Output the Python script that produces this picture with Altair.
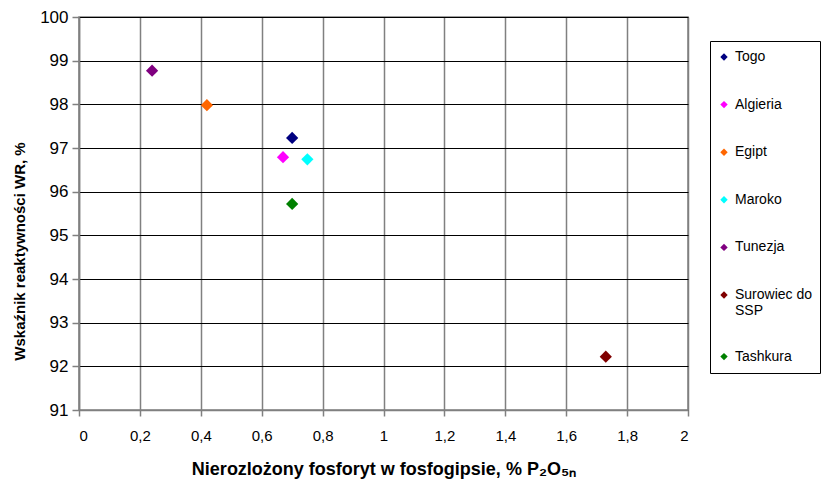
import altair as alt
import pandas as pd

names = ["Togo", "Algieria", "Egipt", "Maroko", "Tunezja", "Surowiec do SSP", "Tashkura"]
x_vals = [0.70, 0.67, 0.42, 0.75, 0.24, 1.73, 0.70]
y_vals = [97.23, 96.79, 97.98, 96.74, 98.77, 92.22, 95.72]
colors = ["#000080", "#FF00FF", "#FF6600", "#00FFFF", "#800080", "#800000", "#008000"]

df = pd.DataFrame({"name": names, "x": x_vals, "y": y_vals})

FONT = "Liberation Sans"

chart = alt.Chart(df).mark_point(shape="diamond", filled=True, size=150, opacity=1).encode(
    x=alt.X("x:Q", scale=alt.Scale(domain=[0, 2], nice=False, zero=False),
            axis=alt.Axis(values=[0, 0.2, 0.4, 0.6, 0.8, 1, 1.2, 1.4, 1.6, 1.8, 2],
                          labelExpr="replace(format(datum.value, '~g'), '.', ',')",
                          title="Nierozlożony fosforyt w fosfogipsie, % P₂O₅ₙ",
                          gridColor="#808080", gridWidth=1.5,
                          domainColor="#808080", domainWidth=1.5,
                          tickColor="#808080", tickSize=6, tickWidth=1.5,
                          labelFontSize=15, labelPadding=12, labelColor="#000000",
                          titleFontSize=18, titleFontWeight="bold", titlePadding=17,
                          titleColor="#000000")),
    y=alt.Y("y:Q", scale=alt.Scale(domain=[91, 100], nice=False, zero=False),
            axis=alt.Axis(values=list(range(91, 101)),
                          title="Wskaźnik reaktywności WR, %",
                          gridColor="#000000", gridWidth=1,
                          domainColor="#808080", domainWidth=1.5,
                          tickColor="#808080", tickSize=7, tickWidth=1.5,
                          labelFontSize=17, labelPadding=4, labelColor="#000000",
                          titleFontSize=15, titleFontWeight="bold", titlePadding=12,
                          titleY=234, titleAnchor="middle",
                          titleColor="#000000")),
    color=alt.Color("name:N", scale=alt.Scale(domain=names, range=colors),
                    legend=alt.Legend(title=None, orient="none", legendX=631, legendY=24,
                                      symbolType="diamond", symbolSize=55,
                                      labelFontSize=14, labelFont=FONT, labelColor="#000000",
                                      labelExpr="datum.label == 'Surowiec do SSP' ? ['Surowiec do', 'SSP'] : datum.label",
                                      clipHeight=18, rowPadding=29.6, padding=7, offset=0,
                                      strokeColor="#000000", fillColor="#FFFFFF",
                                      labelOffset=4, symbolStrokeWidth=0)),
).properties(
    width=609, height=393,
    padding={"left": 79, "top": 17, "right": 135, "bottom": 75},
    autosize=alt.AutoSizeParams(type="none"),
).configure(font=FONT).configure_view(stroke="#808080", strokeWidth=1.5).configure_axis(
    labelFont=FONT, titleFont=FONT
)

chart.save("out.html", embed_options={"renderer": "svg", "actions": False})
